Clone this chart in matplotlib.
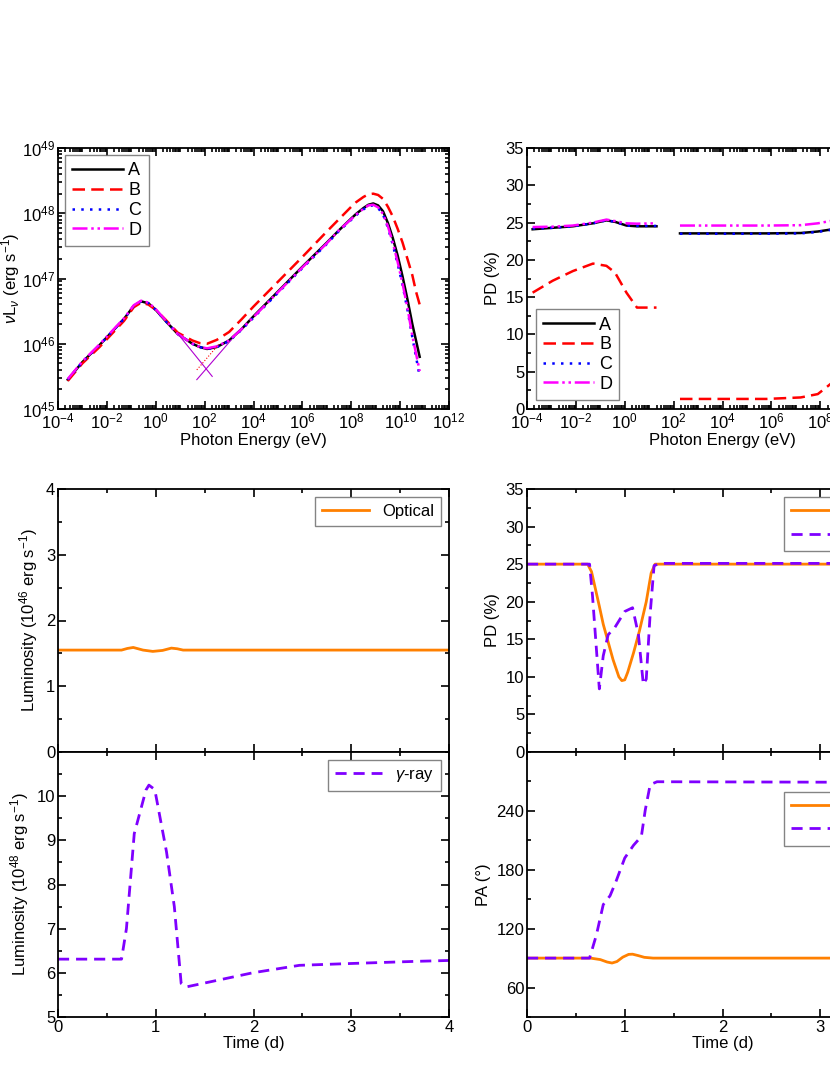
import numpy as np
import matplotlib
matplotlib.use("Agg")
import matplotlib.pyplot as plt
from matplotlib.ticker import LogLocator, MultipleLocator, NullFormatter, FixedLocator

plt.rcParams["font.family"] = "Liberation Sans"
plt.rcParams["mathtext.fontset"] = "custom"
plt.rcParams["mathtext.rm"] = "Liberation Sans"
plt.rcParams["mathtext.it"] = "Liberation Sans:italic"
plt.rcParams["font.size"] = 12

# ---------------- SED (log10 E [eV], log10 nuL_nu) ----------------
sed_logE = [-3.6, -3, -2.3, -1.8, -1.3, -0.9, -0.6, -0.3, 0, 0.4, 0.9, 1.5, 1.8, 2.1, 2.5, 3.0, 3.5, 4, 5, 6, 7,
            7.5, 8, 8.2, 8.5, 8.7, 8.9, 9.1, 9.3, 9.5, 9.7, 9.9, 10.1, 10.3, 10.5, 10.65, 10.8]
sed_A = [45.45, 45.72, 45.98, 46.18, 46.38, 46.58, 46.65, 46.62, 46.52, 46.35, 46.15, 46.0, 45.95, 45.92, 45.95, 46.05, 46.22, 46.42, 46.8, 47.18, 47.55,
         47.74, 47.92, 47.99, 48.08, 48.13, 48.15, 48.12, 48.03, 47.85, 47.62, 47.35, 47.03, 46.68, 46.3, 46.05, 45.8]
sed_B = [45.43, 45.7, 45.95, 46.15, 46.35, 46.56, 46.63, 46.6, 46.52, 46.37, 46.17, 46.05, 46.01, 46.0, 46.06, 46.18, 46.37, 46.57, 46.95, 47.33, 47.72,
         47.91, 48.1, 48.17, 48.25, 48.29, 48.30, 48.28, 48.22, 48.1, 47.95, 47.76, 47.55, 47.3, 47.05, 46.8, 46.6]
sed_C = [45.45, 45.72, 45.98, 46.18, 46.38, 46.58, 46.65, 46.62, 46.52, 46.35, 46.15, 46.0, 45.95, 45.92, 45.95, 46.04, 46.21, 46.4, 46.78, 47.16, 47.53,
         47.73, 47.9, 47.97, 48.06, 48.11, 48.12, 48.08, 47.98, 47.78, 47.52, 47.22, 46.9, 46.52, 46.1, 45.8, 45.5]
sed_D = [45.46, 45.73, 45.99, 46.19, 46.39, 46.59, 46.66, 46.63, 46.53, 46.36, 46.15, 46.0, 45.95, 45.93, 45.96, 46.05, 46.22, 46.41, 46.79, 47.17, 47.54,
         47.74, 47.91, 47.98, 48.07, 48.12, 48.13, 48.09, 47.99, 47.8, 47.55, 47.25, 46.92, 46.55, 46.12, 45.85, 45.58]
sync_ext_logE = [0.91, 2.31]
sync_ext_logL = [46.15, 45.5]
ic_ext_logE = [1.68, 3.09]
ic_ext_logL = [45.45, 46.06]
icB_ext_logE = [1.68, 2.6]
icB_ext_logL = [45.6, 46.0]

# ---------------- PD vs energy ----------------
pd1_logE = [-3.77, -2.95, -2.12, -1.3, -0.75, -0.4, 0.07, 0.5, 1.3]
pd1_A = [24.1, 24.3, 24.5, 24.9, 25.3, 25.1, 24.6, 24.5, 24.5]
pd1_B = [15.6, 17.2, 18.5, 19.5, 19.2, 18.3, 15.6, 13.6, 13.6]
pd1_C = [24.2, 24.3, 24.5, 24.9, 25.3, 25.1, 24.6, 24.55, 24.55]
pd1_D = [24.4, 24.45, 24.6, 25.0, 25.4, 25.2, 24.9, 24.85, 24.9]
pd2_logE = [2.26, 4, 5.8, 7.2, 7.9, 8.4, 9.2, 10.0, 10.8]
pd2_A = [23.55, 23.55, 23.55, 23.6, 23.8, 24.05, 24.4, 24.9, 25.4]
pd2_B = [1.35, 1.35, 1.35, 1.55, 2.0, 3.3, 5.5, 8.0, 10.0]
pd2_C = [23.5, 23.5, 23.5, 23.55, 23.75, 24.0, 24.35, 24.85, 25.35]
pd2_D = [24.6, 24.6, 24.6, 24.65, 24.9, 25.2, 25.6, 26.1, 26.6]

# ---------------- Time series ----------------
t_opt = [0, 0.65, 0.71, 0.77, 0.87, 0.97, 1.07, 1.16, 1.22, 1.28, 4]
lum_opt = [1.55, 1.55, 1.575, 1.59, 1.55, 1.53, 1.545, 1.58, 1.57, 1.55, 1.55]
t_gam = [0, 0.65, 0.70, 0.78, 0.90, 0.93, 0.99, 1.11, 1.19, 1.26, 1.31, 1.99, 2.47, 2.98, 3.66, 4]
lum_gam = [6.31, 6.31, 7.0, 9.15, 10.14, 10.25, 10.15, 8.74, 7.5, 5.76, 5.68, 6.0, 6.17, 6.21, 6.26, 6.28]

t_pdo = [0, 0.62, 0.66, 0.74, 0.78, 0.88, 0.94, 0.97, 1.0, 1.03, 1.09, 1.15, 1.22, 1.27, 1.31, 4]
pd_opt = [25, 25, 24.0, 19.4, 17.0, 12.3, 10.0, 9.5, 9.6, 10.6, 13.2, 16.1, 20.0, 23.8, 25, 25]
t_pdg = [0, 0.64, 0.67, 0.71, 0.74, 0.78, 0.83, 0.90, 1.0, 1.08, 1.14, 1.19, 1.22, 1.26, 1.30, 1.36, 4]
pd_gam = [25.0, 25.0, 20.8, 13.7, 8.4, 12.8, 15.6, 16.6, 18.7, 19.2, 15.6, 9.0, 9.7, 18.4, 24.8, 25.1, 25.1]

t_pao = [0, 0.65, 0.75, 0.82, 0.87, 0.92, 0.98, 1.04, 1.08, 1.14, 1.2, 1.29, 4]
pa_opt = [90, 90, 88.5, 86, 85, 86.5, 91, 93.8, 94, 92.5, 90.8, 90, 90]
t_pag = [0, 0.64, 0.71, 0.78, 0.85, 0.91, 1.0, 1.09, 1.17, 1.21, 1.26, 1.33, 4]
pa_gam = [90, 90, 113.6, 144.5, 153.6, 168, 192, 205, 214, 241, 266.7, 269.7, 269]

names = ["A", "B", "C", "D"]
styles = [dict(color="black", ls="-", lw=1.8),
          dict(color="#FF0000", ls=(0, (5, 2.5)), lw=1.8),
          dict(color="#0000FF", ls=(0, (1, 2.5)), lw=1.8),
          dict(color="#FF00FF", ls=(0, (6, 1.5, 1, 1.5, 1, 1.5)), lw=1.8)]
ORANGE = "#FF8000"
VIOLET = "#7F00FF"

fig = plt.figure(figsize=(8.3, 10.75), dpi=100)
W = 391 / 830
ax1 = fig.add_axes([58 / 830, 1 - 409 / 1075, W, 261 / 1075])
ax2 = fig.add_axes([527 / 830, 1 - 409 / 1075, W, 261 / 1075])
ax3 = fig.add_axes([58 / 830, 1 - 752 / 1075, W, 263 / 1075])
ax4 = fig.add_axes([58 / 830, 1 - 1017 / 1075, W, 265 / 1075])
ax5 = fig.add_axes([527 / 830, 1 - 752 / 1075, W, 263 / 1075])
ax6 = fig.add_axes([527 / 830, 1 - 1017 / 1075, W, 265 / 1075])

def tickstyle(ax):
    ax.tick_params(which="both", direction="in", top=True, right=True, labelsize=12, width=1.2, pad=2)
    ax.tick_params(which="major", length=6)
    ax.tick_params(which="minor", length=3)
    for s in ax.spines.values():
        s.set_linewidth(1.3)

# --- SED ---
for d, n, st in zip([sed_A, sed_B, sed_C, sed_D], names, styles):
    ax1.plot(10 ** np.array(sed_logE), 10 ** np.array(d), label=n, **st)
ax1.plot(10 ** np.array(sync_ext_logE), 10 ** np.array(sync_ext_logL), color="#B000D0", lw=0.8)
ax1.plot(10 ** np.array(ic_ext_logE), 10 ** np.array(ic_ext_logL), color="#B000D0", lw=0.8)
ax1.plot(10 ** np.array(icB_ext_logE), 10 ** np.array(icB_ext_logL), color="#FF0000", lw=0.8, ls=":")
ax1.set_xscale("log"); ax1.set_yscale("log")
ax1.set_xlim(1e-4, 1e12); ax1.set_ylim(1e45, 1e49)
ax1.xaxis.set_major_locator(FixedLocator([10.0 ** k for k in range(-4, 13, 2)]))
ax1.xaxis.set_minor_locator(LogLocator(base=10, subs=np.arange(1, 10), numticks=100))
ax1.xaxis.set_minor_formatter(NullFormatter())
ax1.yaxis.set_minor_locator(LogLocator(base=10, subs=np.arange(2, 10), numticks=100))
ax1.yaxis.set_minor_formatter(NullFormatter())
tickstyle(ax1)
ax1.set_xlabel("Photon Energy (eV)", fontsize=12, labelpad=1)
ax1.set_ylabel(r"$\nu$L$_\nu$ (erg s$^{-1}$)", fontsize=12, labelpad=0)
leg = ax1.legend(loc="upper left", fontsize=13, handlelength=2.8, fancybox=False,
                 edgecolor="#666666", borderaxespad=0.4, labelspacing=0.15, handletextpad=0.3)
leg.get_frame().set_linewidth(1.0)

# --- PD vs energy ---
for d1, d2, n, st in zip([pd1_A, pd1_B, pd1_C, pd1_D], [pd2_A, pd2_B, pd2_C, pd2_D], names, styles):
    ax2.plot(10 ** np.array(pd1_logE), d1, label=n, **st)
    ax2.plot(10 ** np.array(pd2_logE), d2, **st)
ax2.set_xscale("log")
ax2.set_xlim(1e-4, 1e12); ax2.set_ylim(0, 35)
ax2.xaxis.set_major_locator(FixedLocator([10.0 ** k for k in range(-4, 13, 2)]))
ax2.xaxis.set_minor_locator(LogLocator(base=10, subs=np.arange(1, 10), numticks=100))
ax2.xaxis.set_minor_formatter(NullFormatter())
ax2.yaxis.set_major_locator(MultipleLocator(5))
ax2.yaxis.set_minor_locator(MultipleLocator(2.5))
tickstyle(ax2)
ax2.set_xlabel("Photon Energy (eV)", fontsize=12, labelpad=1)
ax2.set_ylabel("PD (%)", fontsize=12)
leg = ax2.legend(loc="lower left", fontsize=13, handlelength=2.8, fancybox=False,
                 edgecolor="#666666", borderaxespad=0.5, labelspacing=0.15, handletextpad=0.3)
leg.get_frame().set_linewidth(1.0)

# --- luminosity ---
ax3.plot(t_opt, lum_opt, color=ORANGE, lw=2, label="Optical")
ax3.set_xlim(0, 4); ax3.set_ylim(0, 4)
ax3.yaxis.set_major_locator(MultipleLocator(1)); ax3.yaxis.set_minor_locator(MultipleLocator(0.5))
ax3.xaxis.set_major_locator(MultipleLocator(1)); ax3.xaxis.set_minor_locator(MultipleLocator(0.5))
tickstyle(ax3)
ax3.tick_params(axis="x", which="both", labelbottom=False)
ax3.set_ylabel(r"Luminosity (10$^{46}$ erg s$^{-1}$)", fontsize=12)
leg = ax3.legend(loc="upper right", fontsize=12, handlelength=2.8, fancybox=False, edgecolor="#666666")
leg.get_frame().set_linewidth(1.0)

ax4.plot(t_gam, lum_gam, color=VIOLET, lw=2, ls=(0, (4, 2.5)), label=r"$\gamma$-ray")
ax4.set_xlim(0, 4); ax4.set_ylim(5, 11)
ax4.yaxis.set_major_locator(FixedLocator([5, 6, 7, 8, 9, 10]))
ax4.yaxis.set_minor_locator(MultipleLocator(0.5))
ax4.xaxis.set_major_locator(MultipleLocator(1)); ax4.xaxis.set_minor_locator(MultipleLocator(0.5))
tickstyle(ax4)
ax4.set_xlabel("Time (d)", fontsize=12, labelpad=1)
ax4.set_ylabel(r"Luminosity (10$^{48}$ erg s$^{-1}$)", fontsize=12)
leg = ax4.legend(loc="upper right", fontsize=12, handlelength=2.8, fancybox=False, edgecolor="#666666")
leg.get_frame().set_linewidth(1.0)

# --- PD vs time ---
ax5.plot(t_pdo, pd_opt, color=ORANGE, lw=2, label="Optical")
ax5.plot(t_pdg, pd_gam, color=VIOLET, lw=2, ls=(0, (4, 2.5)), label=r"$\gamma$-ray")
ax5.set_xlim(0, 4); ax5.set_ylim(0, 35)
ax5.yaxis.set_major_locator(MultipleLocator(5)); ax5.yaxis.set_minor_locator(MultipleLocator(2.5))
ax5.xaxis.set_major_locator(MultipleLocator(1)); ax5.xaxis.set_minor_locator(MultipleLocator(0.5))
tickstyle(ax5)
ax5.tick_params(axis="x", which="both", labelbottom=False)
ax5.set_ylabel("PD (%)", fontsize=12)
leg = ax5.legend(loc="upper right", fontsize=12, handlelength=2.8, fancybox=False, edgecolor="#666666")
leg.get_frame().set_linewidth(1.0)

# --- PA vs time ---
ax6.plot(t_pao, pa_opt, color=ORANGE, lw=2, label="Optical")
ax6.plot(t_pag, pa_gam, color=VIOLET, lw=2, ls=(0, (4, 2.5)), label=r"$\gamma$-ray")
ax6.set_xlim(0, 4); ax6.set_ylim(30, 300)
ax6.yaxis.set_major_locator(FixedLocator([60, 120, 180, 240]))
ax6.yaxis.set_minor_locator(MultipleLocator(30))
ax6.xaxis.set_major_locator(MultipleLocator(1)); ax6.xaxis.set_minor_locator(MultipleLocator(0.5))
tickstyle(ax6)
ax6.set_xlabel("Time (d)", fontsize=12, labelpad=1)
ax6.set_ylabel("PA (°)", fontsize=12)
leg = ax6.legend(loc="upper right", bbox_to_anchor=(1, 0.88), fontsize=12, handlelength=2.8,
                 fancybox=False, edgecolor="#666666")
leg.get_frame().set_linewidth(1.0)

fig.savefig("out.png", dpi=100)
